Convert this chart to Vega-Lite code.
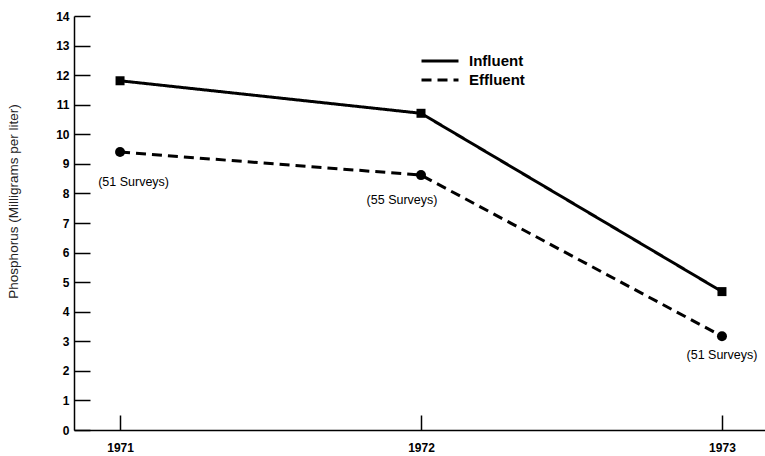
{
  "$schema": "https://vega.github.io/schema/vega-lite/v6.json",
  "width": 691,
  "height": 414,
  "autosize": {"type": "none"},
  "padding": {"left": 74, "top": 16, "right": 0, "bottom": 26},
  "background": "white",
  "config": {"view": {"stroke": null}, "font": "Liberation Sans"},
  "datasets": {
    "series": [
      {"year": 1971, "value": 11.81, "series": "Influent"},
      {"year": 1972, "value": 10.71, "series": "Influent"},
      {"year": 1973, "value": 4.68, "series": "Influent"},
      {"year": 1971, "value": 9.4, "series": "Effluent"},
      {"year": 1972, "value": 8.62, "series": "Effluent"},
      {"year": 1973, "value": 3.17, "series": "Effluent"}
    ],
    "notes": [
      {"year": 1971.045, "value": 8.38, "label": "(51 Surveys)"},
      {"year": 1971.937, "value": 7.77, "label": "(55 Surveys)"},
      {"year": 1973.0, "value": 2.55, "label": "(51 Surveys)"}
    ]
  },
  "encoding": {
    "x": {
      "field": "year", "type": "quantitative",
      "scale": {"domain": [1970.847, 1973.143], "nice": false, "zero": false},
      "axis": {
        "values": [1971, 1972, 1973], "format": "d", "title": null, "grid": false,
        "tickCount": 20,
        "domainColor": "black", "domainWidth": 1.5,
        "tickColor": "black", "tickWidth": 1.5, "tickSize": -15,
        "labelFont": "Liberation Sans", "labelFontWeight": "bold", "labelFontSize": 12,
        "labelColor": "black", "labelPadding": 27, "labelOverlap": false
      }
    },
    "y": {
      "field": "value", "type": "quantitative",
      "scale": {"domain": [0, 14], "nice": false},
      "axis": {
        "title": "Phosphorus (Milligrams per liter)",
        "values": [0, 1, 2, 3, 4, 5, 6, 7, 8, 9, 10, 11, 12, 13, 14],
        "format": "d",
        "tickCount": 30,
        "grid": false, "labelOverlap": false,
        "domainColor": "black", "domainWidth": 1.5,
        "tickColor": "black", "tickWidth": 1.5, "tickSize": -16,
        "labelFont": "Liberation Sans", "labelFontWeight": "bold", "labelFontSize": 12,
        "labelColor": "black", "labelPadding": 21,
        "titleFont": "Liberation Sans", "titleFontSize": 13.5, "titleFontWeight": "normal",
        "titleColor": "#222222", "titleX": -54, "titleY": 185, "titleAngle": -90
      }
    }
  },
  "layer": [
    {
      "data": {"name": "series"},
      "mark": {"type": "line", "strokeWidth": 3, "color": "black"},
      "encoding": {
        "strokeDash": {
          "field": "series", "type": "nominal",
          "scale": {"domain": ["Influent", "Effluent"], "range": [[1, 0], [10, 6]]},
          "legend": {
            "orient": "none", "legendX": 355, "legendY": 34, "title": null,
            "symbolType": "M-2,0H2", "symbolSize": 342, "symbolStrokeWidth": 3,
            "symbolStrokeColor": "black", "labelFontSize": 15, "labelFontWeight": "bold",
            "labelColor": "black", "labelFont": "Liberation Sans", "labelOffset": 18,
            "rowPadding": 0
          }
        }
      }
    },
    {
      "data": {"name": "series"},
      "transform": [{"filter": "datum.series === 'Influent'"}],
      "mark": {"type": "square", "filled": true, "color": "black", "opacity": 1, "size": 81}
    },
    {
      "data": {"name": "series"},
      "transform": [{"filter": "datum.series === 'Effluent'"}],
      "mark": {"type": "circle", "filled": true, "color": "black", "opacity": 1, "size": 100}
    },
    {
      "data": {"name": "notes"},
      "mark": {"type": "text", "fontSize": 12.5, "color": "black", "font": "Liberation Sans"},
      "encoding": {
        "text": {"field": "label"}
      }
    }
  ]
}
